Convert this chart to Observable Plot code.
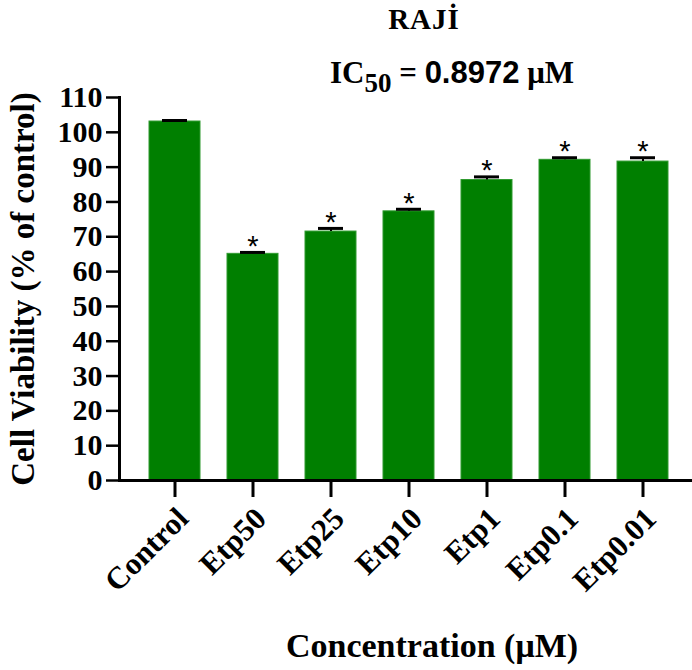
<!DOCTYPE html>
<html><head><meta charset="utf-8">
<script src="https://cdn.jsdelivr.net/npm/d3@7"></script>
<script src="https://cdn.jsdelivr.net/npm/@observablehq/plot@0.6"></script>
<style>body{margin:0;background:#fff}</style>
</head><body><div id="chart"></div>
<script>
const categories = ["Control", "Etp50", "Etp25", "Etp10", "Etp1", "Etp0.1", "Etp0.01"];
const viability = [103.1, 65.1, 71.5, 77.3, 86.3, 92.1, 91.6];
const sem = [0.3, 0.4, 0.9, 0.6, 0.9, 0.6, 1.1];
const significant = [false, true, true, true, true, true, true];
const yTicks = [0, 10, 20, 30, 40, 50, 60, 70, 80, 90, 100, 110];
const title = "RAJİ";
const yLabel = "Cell Viability (% of control)";
const xLabel = "Concentration (μM)";

const data = categories.map((c, i) => ({c, v: viability[i], e: sem[i], sig: significant[i]}));
const serif = "'Liberation Serif', 'Times New Roman', serif";
const sans = "'Liberation Sans', Arial, sans-serif";

const chart = Plot.plot({
  width: 692, height: 670,
  marginLeft: 119, marginRight: 0, marginTop: 97, marginBottom: 190,
  style: {fontFamily: serif, background: "#fff", color: "#000"},
  x: {domain: categories, range: [119, 697.5], padding: 0.34},
  y: {domain: [0, 110]},
  marks: [
    Plot.barY(data, {x: "c", y: "v", fill: "#007f00", stroke: "#2f9a2f", strokeWidth: 1}),
    Plot.ruleX(data, {x: "c", y1: "v", y2: d => d.v + d.e, stroke: "#000", strokeWidth: 2}),
    Plot.tickY(data, {x: "c", y: d => d.v + d.e, stroke: "#000", strokeWidth: 3, insetLeft: 13, insetRight: 13}),
    Plot.text(data.filter(d => d.sig), {x: "c", y: d => d.v + d.e, text: () => "*", dy: -6, fontSize: 29, fontFamily: sans, textAnchor: "middle", lineAnchor: "middle"}),
    Plot.ruleY([0], {stroke: "#000", strokeWidth: 3}),
    Plot.frame({anchor: "left", stroke: "#000", strokeWidth: 3}),
    Plot.axisY({ticks: yTicks, tickSize: 13, tickPadding: 4, fontSize: 30, fontWeight: "bold", strokeWidth: 2.5, label: null}),
    Plot.axisX({tickSize: 17, tickFormat: () => "", strokeWidth: 3, label: null}),
    Plot.text(categories, {x: d => d, frameAnchor: "bottom", dy: 33, dx: 8, rotate: -45, textAnchor: "end", lineAnchor: "middle", fontSize: 31, fontWeight: "bold"}),
    Plot.text([yLabel], {frameAnchor: "left", rotate: -90, dx: -96, textAnchor: "middle", lineAnchor: "middle", fontSize: 33, fontWeight: "bold"}),
    Plot.text([xLabel], {frameAnchor: "bottom", dx: 26, dy: 166, textAnchor: "middle", lineAnchor: "middle", fontSize: 34, fontWeight: "bold"})
  ]
});

const svg = d3.select(chart);
svg.append("text")
  .attr("x", 424).attr("y", 29)
  .attr("text-anchor", "middle")
  .attr("font-family", serif).attr("font-weight", "bold").attr("font-size", 29)
  .attr("letter-spacing", 1)
  .attr("fill", "#000")
  .text(title);
const ic = svg.append("text")
  .attr("x", 330).attr("y", 83)
  .attr("text-anchor", "start")
  .attr("font-family", serif).attr("font-weight", "bold").attr("font-size", 31)
  .attr("fill", "#000");
ic.append("tspan").text("IC");
ic.append("tspan").attr("font-size", 27).attr("dy", 9).text("50");
ic.append("tspan").attr("dy", -9).text(" = ");
ic.append("tspan").attr("font-family", sans).text("0.8972");
ic.append("tspan").text(" μM");

document.getElementById("chart").appendChild(chart);
</script>
</body></html>
